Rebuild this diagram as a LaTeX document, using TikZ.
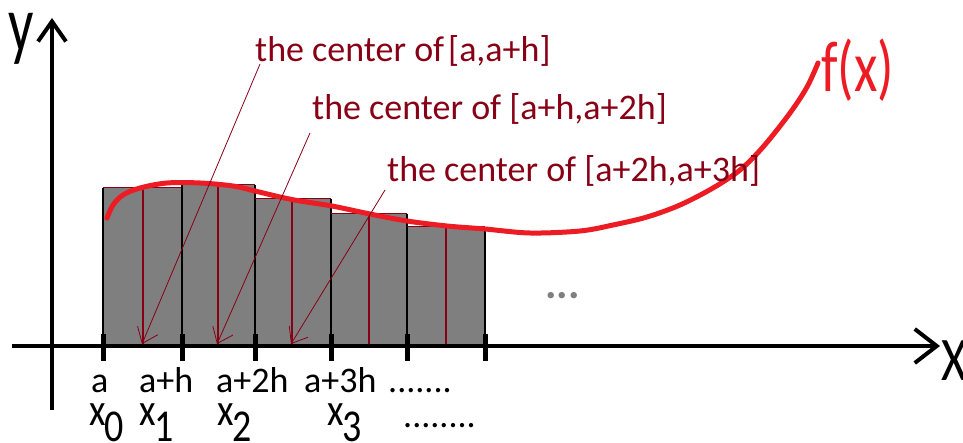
\documentclass[tikz,border=0pt]{standalone}
\usepackage{fontspec}
\setmainfont{Carlito}
\usetikzlibrary{arrows.meta,calc}
\definecolor{pdred}{HTML}{880015}
\definecolor{pred}{HTML}{ED1C24}
\definecolor{pgray}{HTML}{7F7F7F}
\newcommand\myxsub[1]{\scalebox{1}[1.2]{x}\kern-1pt\raisebox{-16pt}[0pt][0pt]{\scalebox{1}[1.2]{#1}}}
\begin{document}
\begin{tikzpicture}[x=1pt,y=-1pt,
  lbl/.style={inner sep=0pt,anchor=base west,font=\fontsize{36}{36}\selectfont},
  sublbl/.style={inner sep=0pt,anchor=base west,font=\fontsize{38}{38}\selectfont},
  toplbl/.style={lbl,text=pdred},
  ptr/.style={pdred,line width=0.8pt,-{Straight Barb[length=14pt,width=22pt]}},
  midln/.style={pdred,line width=1.3pt},
  rectedge/.style={black,line width=1.5pt},
  topedge/.style={pdred,line width=1pt},
  axisx/.style={line width=4pt,-{Straight Barb[length=22pt,width=34pt]}},
  axisy/.style={line width=4pt,-{Straight Barb[length=20pt,width=28pt]}},
  tickmark/.style={line width=5pt},
  curve/.style={pred,line width=5pt,line cap=round}]
\useasboundingbox (0,0) rectangle (963,443);
% rectangles of the midpoint rule
\foreach \xa/\xb/\t/\m in {103/182/188/143, 182/255/185/218, 255/331/199/292, 331/407/214/369, 407/485/227/446} {
  \fill[pgray] (\xa,\t) rectangle (\xb,346);
  \draw[topedge] (\xa,\t) -- (\xb,\t);
  \draw[midln] (\m,\t) -- (\m,346);
  \draw[rectedge] (\xa,\t) -- (\xa,346);
  \draw[rectedge] (\xb,\t) -- (\xb,346);
}
% axes
\coordinate (xs) at (12,346);
\coordinate (xe) at (940,346);
\coordinate (ys) at (52,410);
\coordinate (ye) at (52,18);
\draw[axisx] (xs) -- (xe);
\draw[axisy] (ys) -- (ye);
\foreach \x in {103,182,255,331,407,485} \draw[tickmark] (\x,334) -- (\x,361);
% curve f(x)
\draw[curve] plot[smooth,tension=0.55] coordinates {(107,218) (113,205) (123,195) (140,188) (167,183) (200,183) (233,186) (255,191) (280,197) (300,201) (332,206) (370,214) (407,221) (447,226) (485,229) (530,233) (580,231) (613,225) (647,217) (680,205) (713,188) (740,170) (763,147) (790,113) (807,87) (818,63)};
% axis labels
\node[inner sep=0pt,anchor=base west] (ylab) at (8,52) {\scalebox{0.7}[1]{\fontsize{80}{80}\selectfont y}};
\node[inner sep=0pt,anchor=base west] (xlab) at (941,380) {\scalebox{0.8}[1]{\fontsize{62}{62}\selectfont X}};
\node[inner sep=0pt,anchor=base west,text=pred] (fx) at (821,92) {\scalebox{0.75}[1]{\fontsize{72}{72}\selectfont f(x)}};
% top labels
\node[toplbl] (L1) at (255,62) {the center of\kern4pt[a,a+h]};
\node[toplbl] (L2) at (312,120) {the center of [a+h,a+2h]};
\node[toplbl] (L3) at (387,182) {the center of [a+2h,a+3h]};
\coordinate (m1) at (142,344);
\coordinate (m2) at (217,344);
\coordinate (m3) at (291,344);
\draw[ptr] ($(L1.base west)+(5,2)$) -- (m1);
\draw[ptr] ($(L2.base west)+(-2,13)$) -- (m2);
\draw[ptr] ($(L3.base west)+(-2,8)$) -- (m3);
% dots
\node[inner sep=0pt,anchor=base west,text=pgray,font=\bfseries\fontsize{43}{43}\selectfont] (dots) at (545,299) {...};
% bottom labels
\node[lbl] (a0) at (91,392) {a};
\node[lbl] (a1) at (139,392) {a+h};
\node[lbl] (a2) at (216,392) {a+2h};
\node[lbl] (a3) at (304,392) {a+3h};
\node[lbl] (ad) at (388,392) {.......};
\node[sublbl] (x0) at (89,425) {\myxsub{0}};
\node[sublbl] (x1) at (139,425) {\myxsub{1}};
\node[sublbl] (x2) at (217,425) {\myxsub{2}};
\node[sublbl] (x3) at (327,425) {\myxsub{3}};
\node[lbl] (xd) at (403,427) {........};
\end{tikzpicture}
\end{document}
